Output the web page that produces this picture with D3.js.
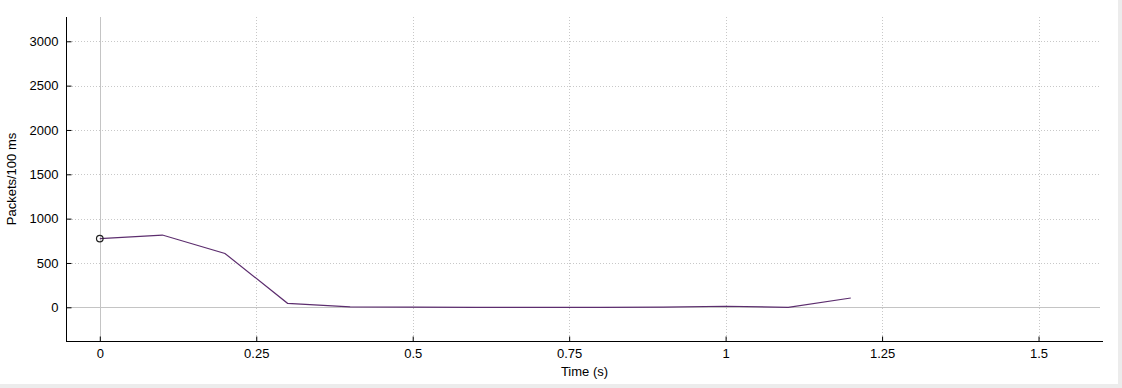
<!DOCTYPE html>
<html>
<head>
<meta charset="utf-8">
<script src="https://cdn.jsdelivr.net/npm/d3@7"></script>
<style>
	body { margin: 0; background: #ececec; font-family: "Liberation Sans", "DejaVu Sans", sans-serif; }
	#chart { width: 1118px; height: 384px; background: #fff; }
	.tick text { font-size: 13px; fill: #000; }
	.axis-label { font-size: 13px; fill: #000; }
</style>
</head>
<body>
<div id="chart"></div>
<script>
// time (s) and packets per 100 ms
const times = [0, 0.1, 0.2, 0.3, 0.4, 0.5, 0.6, 0.7, 0.8, 0.9, 1.0, 1.1, 1.2];
const packets = [775, 815, 607, 45, 4, 1, 0, 0, 0, 2, 12, 0, 105];
const xTicks = [0, 0.25, 0.5, 0.75, 1, 1.25, 1.5];
const yTicks = [0, 500, 1000, 1500, 2000, 2500, 3000];

const width = 1118;
const height = 384;
const marginLeft = 66;
const marginRight = 15;
const marginTop = 17;
const marginBottom = 43;

const $svg = d3.select('#chart').append('svg')
	.attr('width', width)
	.attr('height', height);

const x = d3.scaleLinear()
	.domain([-0.054, 1.603])
	.range([marginLeft, width - marginRight]);
const y = d3.scaleLinear()
	.domain([-380, 3274])
	.range([height - marginBottom, marginTop]);

const x0 = x.range()[0], x1 = x.range()[1];
const y0 = y.range()[0], y1 = y.range()[1];

// grid
const $grid = $svg.append('g').attr('class', 'g-grid');
$grid.selectAll('.vgrid')
	.data(xTicks.filter(d => d !== 0))
	.join('line')
	.attr('x1', d => Math.round(x(d)) + 0.5)
	.attr('x2', d => Math.round(x(d)) + 0.5)
	.attr('y1', y1)
	.attr('y2', y0)
	.attr('stroke', '#c8c8c8')
	.attr('stroke-dasharray', '1,2');
$grid.selectAll('.hgrid')
	.data(yTicks.filter(d => d !== 0))
	.join('line')
	.attr('x1', x0)
	.attr('x2', x1 - 3)
	.attr('y1', d => Math.round(y(d)) + 0.5)
	.attr('y2', d => Math.round(y(d)) + 0.5)
	.attr('stroke', '#c8c8c8')
	.attr('stroke-dasharray', '1,2');

// zero lines
$grid.append('line')
	.attr('x1', Math.round(x(0)) + 0.5).attr('x2', Math.round(x(0)) + 0.5)
	.attr('y1', y1).attr('y2', y0)
	.attr('stroke', '#c4c4c4');
$grid.append('line')
	.attr('x1', x0).attr('x2', x1 - 3)
	.attr('y1', Math.round(y(0)) + 0.5).attr('y2', Math.round(y(0)) + 0.5)
	.attr('stroke', '#c4c4c4');

// axes
const xMinor = d3.range(-0.05, 1.61, 0.05).filter(d => x(d) >= x0 && x(d) <= x1);
const yMinor = d3.range(-300, 3300, 100).filter(d => y(d) <= y0 && y(d) >= y1);

const $xAxis = $svg.append('g')
	.attr('transform', `translate(0, ${Math.round(y0) + 0.5})`);
$xAxis.call(d3.axisBottom(x).tickValues(xMinor).tickSize(-2).tickFormat(''));
$xAxis.call(d3.axisBottom(x).tickValues(xTicks).tickSize(-5).tickPadding(7)
	.tickFormat(d3.format('')));
$xAxis.selectAll('.domain').attr('d', `M${x0},0H${x1}`).attr('stroke', '#000');

const $yAxis = $svg.append('g')
	.attr('transform', `translate(${Math.round(x0) + 0.5}, 0)`);
$yAxis.call(d3.axisLeft(y).tickValues(yMinor).tickSize(-2).tickFormat(''));
$yAxis.call(d3.axisLeft(y).tickValues(yTicks).tickSize(-5).tickPadding(8)
	.tickFormat(d3.format('')));
$yAxis.selectAll('.domain').attr('d', `M0,${y1}V${y0}`).attr('stroke', '#000');

// labels
$svg.append('text')
	.attr('class', 'axis-label')
	.attr('x', (x0 + x1) / 2)
	.attr('y', 376)
	.attr('text-anchor', 'middle')
	.text('Time (s)');
$svg.append('text')
	.attr('class', 'axis-label')
	.attr('transform', `translate(16, ${(y0 + y1) / 2}) rotate(-90)`)
	.attr('text-anchor', 'middle')
	.text('Packets/100 ms');

// series
const line = d3.line()
	.x((d, i) => x(times[i]))
	.y(d => y(d));
$svg.append('path')
	.datum(packets)
	.attr('d', line)
	.attr('fill', 'none')
	.attr('stroke', '#5c2d6e')
	.attr('stroke-width', 1.2);

$svg.append('circle')
	.attr('cx', x(times[0]))
	.attr('cy', y(packets[0]))
	.attr('r', 3.3)
	.attr('fill', 'none')
	.attr('stroke', '#222')
	.attr('stroke-width', 1.2);
</script>
</body>
</html>
